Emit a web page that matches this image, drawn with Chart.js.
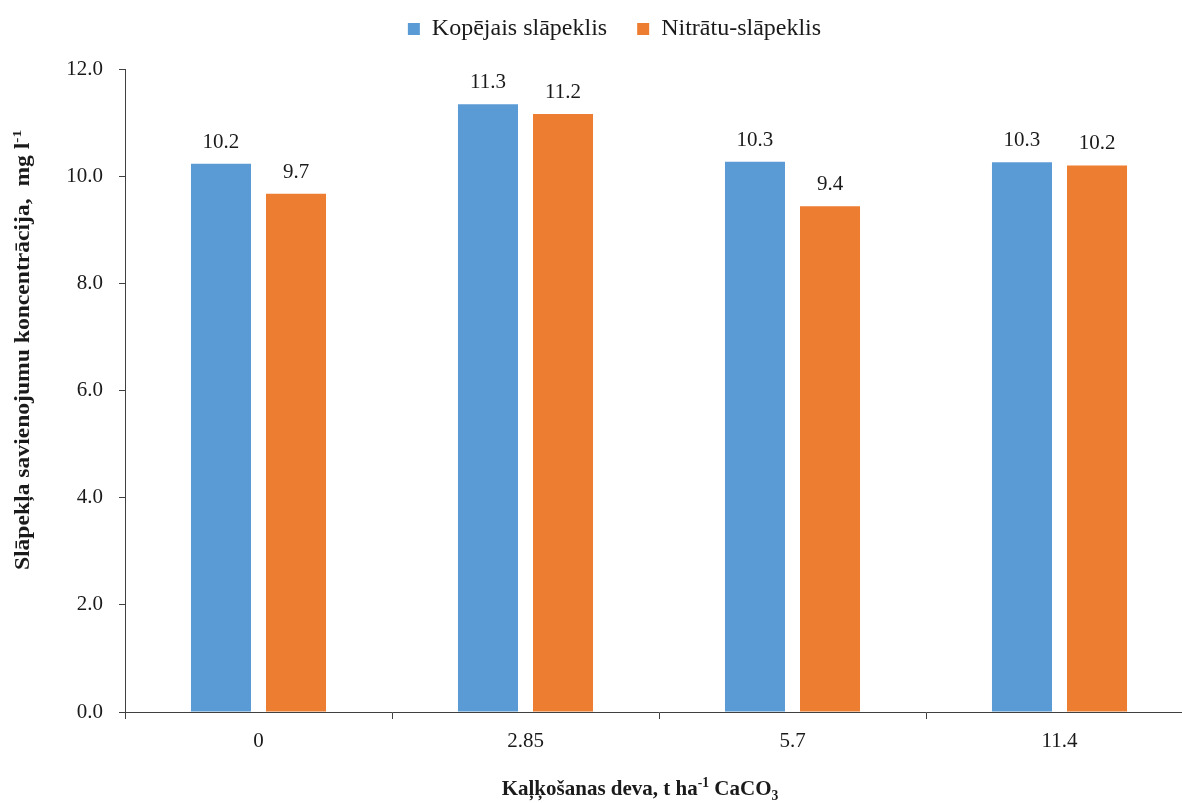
<!DOCTYPE html>
<html lang="lv">
<head>
  <meta charset="UTF-8" />
  <title>Slāpekļa savienojumu koncentrācija</title>
  <script src="https://cdn.jsdelivr.net/npm/chart.js"></script>
  <style>
    * {
      box-sizing: border-box;
      margin: 0;
      padding: 0;
    }
    body {
      background: #fff;
      width: 1182px;
      height: 803px;
      overflow: hidden;
    }
    .chart-wrap {
      position: relative;
      width: 1200px;
      height: 803px;
    }
  </style>
</head>
<body>
  <div class="chart-wrap">
    <canvas id="chart"></canvas>
  </div>

  <script>
// Data
const categories = ['0', '2.85', '5.7', '11.4'];
const seriesNames = ['Kopējais slāpeklis', 'Nitrātu-slāpeklis'];
const kopejais = [10.23, 11.34, 10.27, 10.26];
const nitratu = [9.67, 11.16, 9.44, 10.20];
const yTicks = [0, 2, 4, 6, 8, 10, 12];

const BLUE = '#5B9BD5';
const ORANGE = '#ED7D31';
const FONT = "'Liberation Serif', 'Times New Roman', serif";
const TEXT = '#1a1a1a';

// value labels above each bar
const valueLabels = {
  id: 'valueLabels',
  afterDatasetsDraw(chart) {
    const ctx = chart.ctx;
    ctx.save();
    ctx.font = `21px ${FONT}`;
    ctx.fillStyle = TEXT;
    ctx.textAlign = 'center';
    ctx.textBaseline = 'bottom';
    chart.data.datasets.forEach((ds, i) => {
      chart.getDatasetMeta(i).data.forEach((bar, j) => {
        ctx.fillText(ds.data[j].toFixed(1), bar.x, bar.y - 11);
      });
    });
    ctx.restore();
  }
};

// extra room under the legend, and nudge it right a bit
const legendSpacing = {
  id: 'legendSpacing',
  beforeInit(chart) {
    const origFit = chart.legend.fit;
    chart.legend.fit = function () {
      origFit.call(this);
      this.height += 18;
    };
  },
  afterLayout(chart) {
    chart.legend.left += 18;
    chart.legend.right += 18;
  }
};

// draw a run of text pieces, some raised or lowered
function drawRich(ctx, parts, size) {
  let total = 0;
  parts.forEach(p => {
    ctx.font = `bold ${p.small ? size * 0.65 : size}px ${FONT}`;
    p.w = ctx.measureText(p.t).width;
    total += p.w;
  });
  let x = -total / 2;
  parts.forEach(p => {
    ctx.font = `bold ${p.small ? size * 0.65 : size}px ${FONT}`;
    ctx.fillText(p.t, x, p.dy || 0);
    x += p.w;
  });
}

const axisTitles = {
  id: 'axisTitles',
  afterDraw(chart) {
    const ctx = chart.ctx;
    ctx.save();
    ctx.fillStyle = TEXT;
    ctx.textAlign = 'left';
    ctx.textBaseline = 'alphabetic';

    // y axis title
    ctx.save();
    ctx.translate(29, 350);
    ctx.rotate(-Math.PI / 2);
    ctx.scale(1.18, 1);
    drawRich(ctx, [
      { t: 'Slāpekļa savienojumu koncentrācija,  mg l' },
      { t: '-1', small: true, dy: -8 }
    ], 20);
    ctx.restore();

    // x axis title
    ctx.save();
    ctx.translate(640, 795);
    drawRich(ctx, [
      { t: 'Kaļķošanas deva, t ha' },
      { t: '-1', small: true, dy: -8 },
      { t: ' CaCO' },
      { t: '3', small: true, dy: 5 }
    ], 21);
    ctx.restore();

    ctx.restore();
  }
};

const chart = new Chart(document.getElementById('chart'), {
  type: 'bar',
  data: {
    labels: categories,
    datasets: [
      {
        label: seriesNames[0],
        data: kopejais,
        backgroundColor: BLUE,
        categoryPercentage: 0.562,
        barPercentage: 0.8
      },
      {
        label: seriesNames[1],
        data: nitratu,
        backgroundColor: ORANGE,
        categoryPercentage: 0.562,
        barPercentage: 0.8
      }
    ]
  },
  options: {
    responsive: true,
    maintainAspectRatio: false,
    animation: false,
    layout: {
      padding: { left: 0, right: 7, top: -13, bottom: 0 }
    },
    plugins: {
      legend: {
        position: 'top',
        labels: {
          boxWidth: 12,
          boxHeight: 12,
          padding: 30,
          color: TEXT,
          font: { family: FONT, size: 24 }
        }
      },
      tooltip: { enabled: false }
    },
    scales: {
      x: {
        grid: {
          display: true,
          drawOnChartArea: false,
          tickLength: 7,
          color: '#404040'
        },
        border: { color: '#404040', width: 1 },
        ticks: {
          color: TEXT,
          padding: 10,
          font: { family: FONT, size: 21 }
        },
        afterFit(scale) { scale.height = 91; }
      },
      y: {
        min: 0,
        max: 12,
        afterBuildTicks(scale) {
          scale.ticks = yTicks.map(v => ({ value: v }));
        },
        grid: {
          display: true,
          drawOnChartArea: false,
          tickLength: 6,
          color: '#404040'
        },
        border: { color: '#404040', width: 1 },
        ticks: {
          color: TEXT,
          padding: 16,
          font: { family: FONT, size: 21 },
          callback: v => Number(v).toFixed(1)
        },
        afterFit(scale) { scale.width = 125; }
      }
    }
  },
  plugins: [legendSpacing, valueLabels, axisTitles]
});
  </script>
</body>
</html>
